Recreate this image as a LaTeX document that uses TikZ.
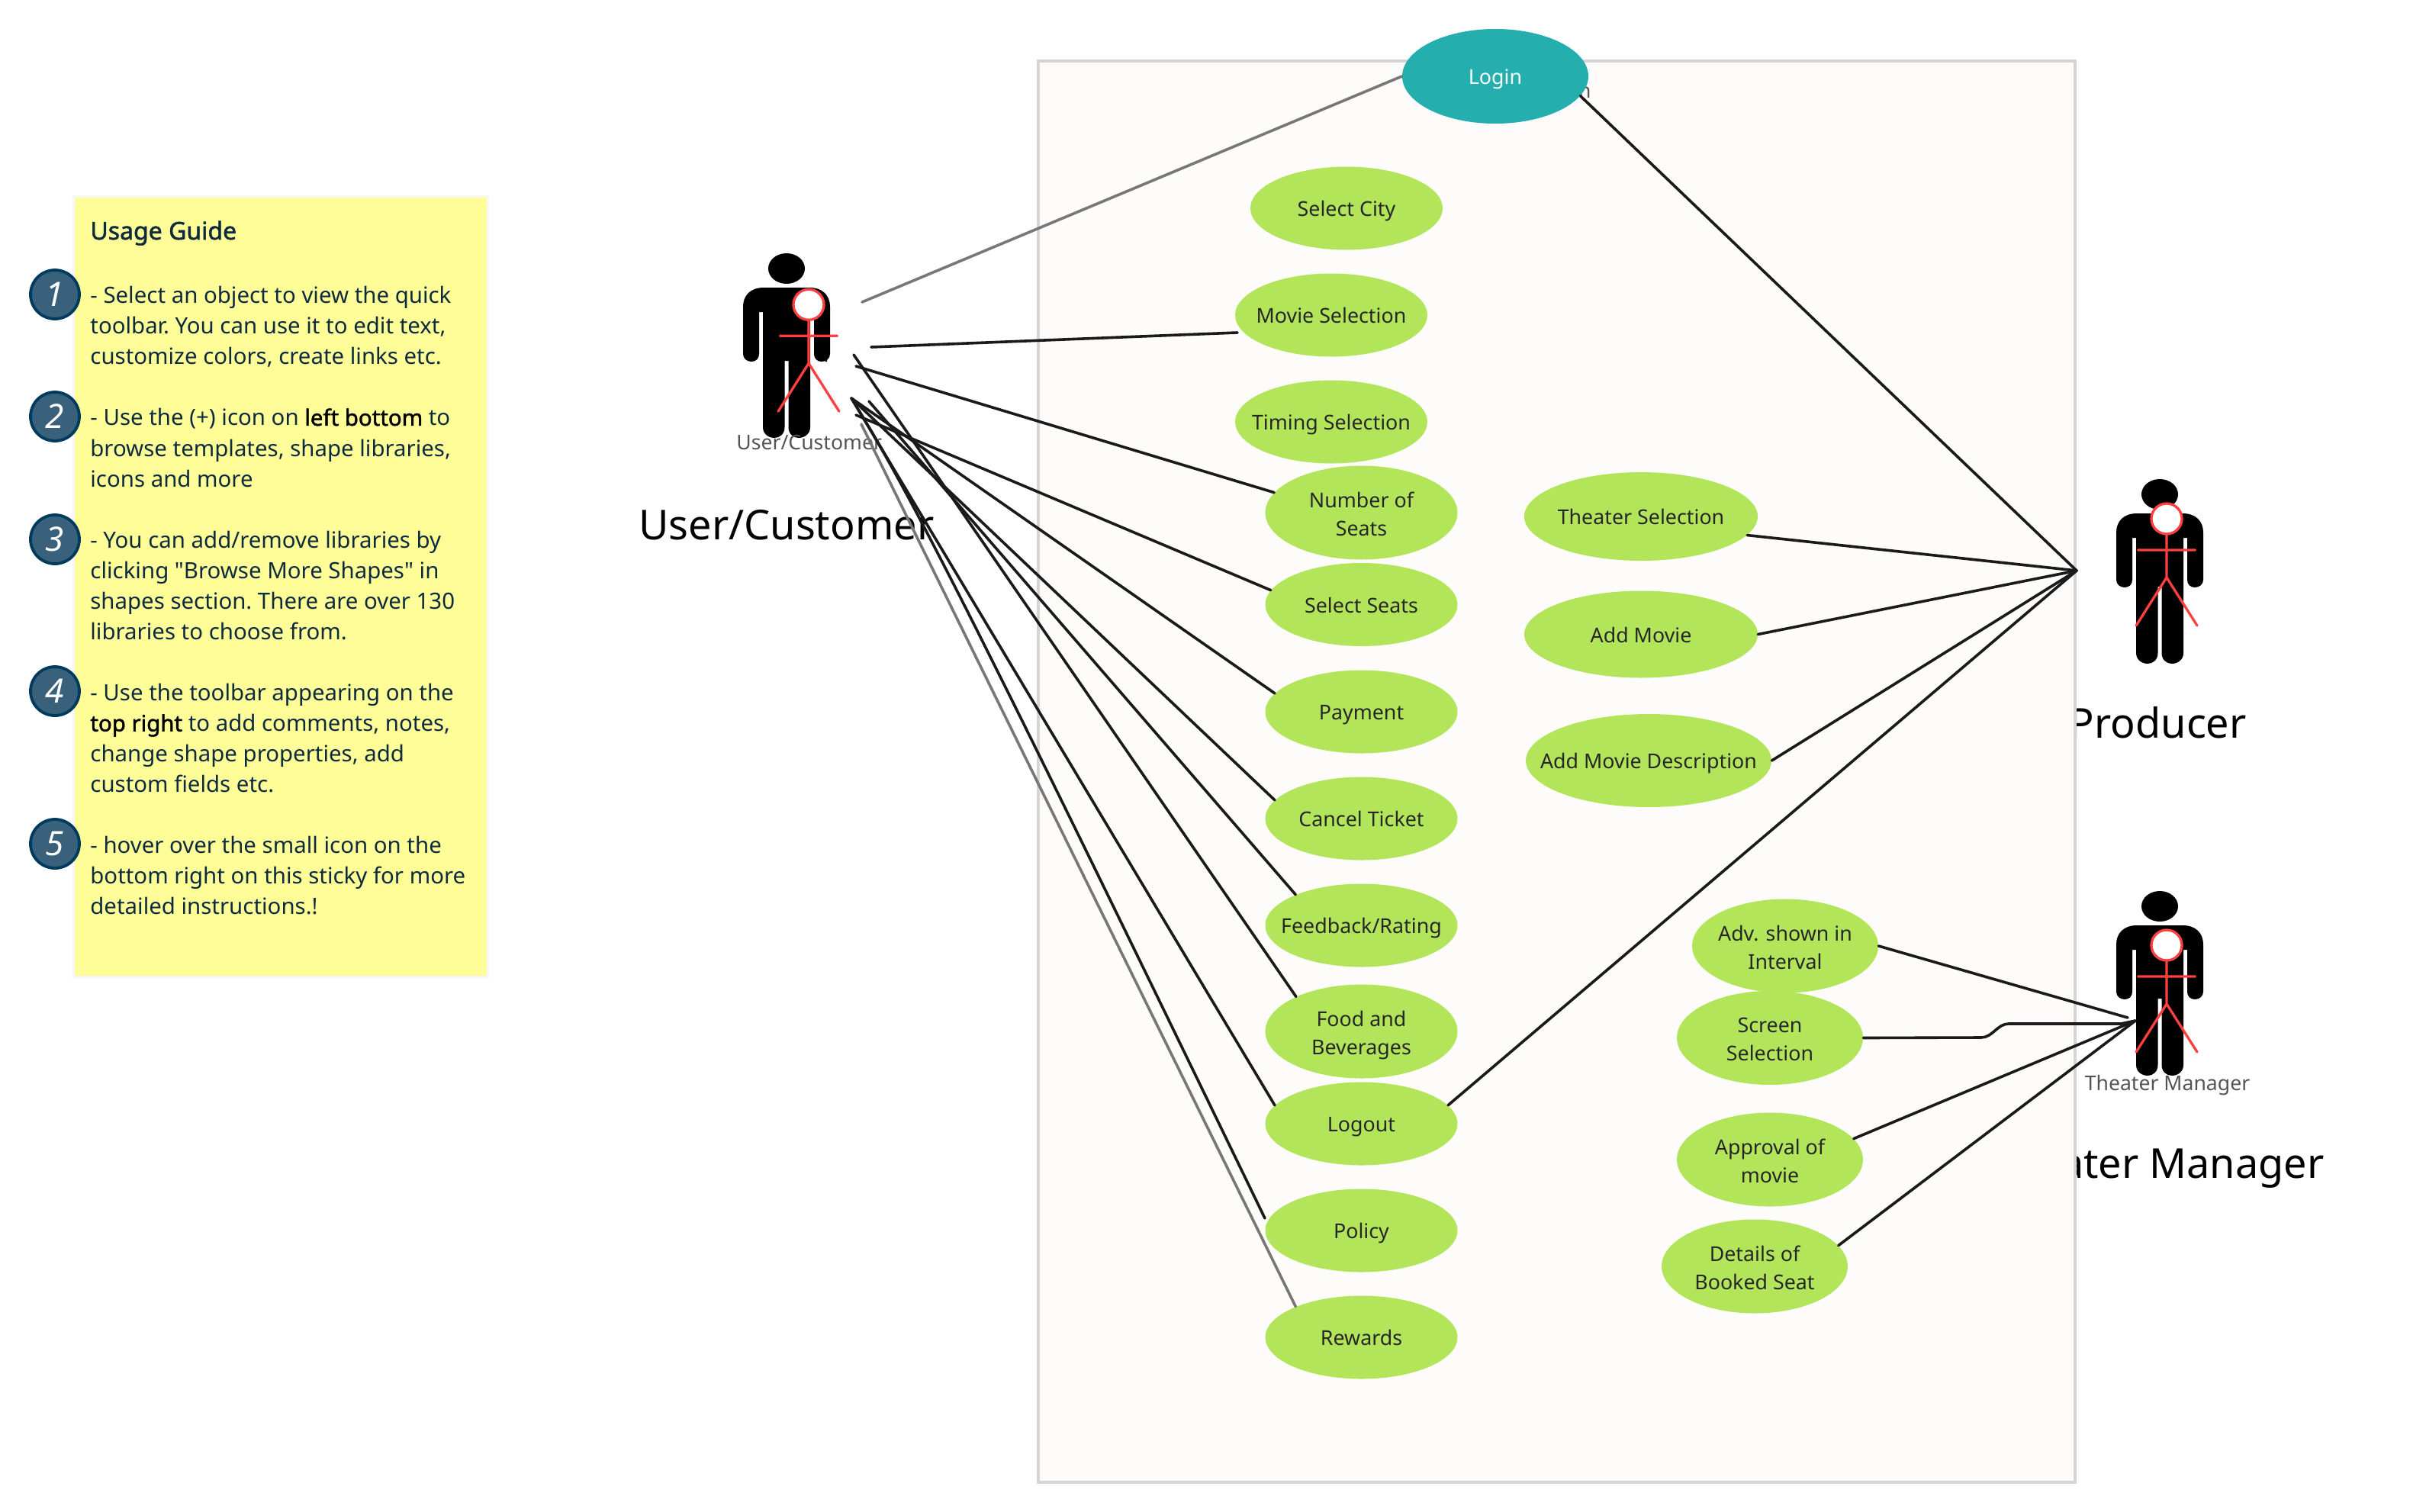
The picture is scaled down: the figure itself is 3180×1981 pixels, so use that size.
\documentclass[tikz,border=0pt]{standalone}
\usepackage{fontspec}
\setmainfont{Noto Sans}[AutoFakeBold=1.6]
\newfontfamily\quotefont{Noto Sans}
\usetikzlibrary{shapes.geometric}
\definecolor{frameline}{HTML}{D5D5D5}
\definecolor{framefill}{HTML}{FDFCFB}
\definecolor{usecase}{HTML}{B3E55B}
\definecolor{logincol}{HTML}{24AFAE}
\definecolor{notefill}{HTML}{FFFD98}
\definecolor{notetext}{HTML}{0E2B3D}
\definecolor{badgefill}{HTML}{3A617B}
\definecolor{badgeline}{HTML}{003A5C}
\definecolor{stickred}{HTML}{FF4040}
\definecolor{linedark}{HTML}{1A1A1A}
\definecolor{linegray}{HTML}{777777}
\tikzset{
  case/.style={ellipse,fill=usecase,inner xsep=-25pt,inner ysep=-12pt,minimum width=126pt,minimum height=54.5pt,
    align=center,text=black!85,font=\fontsize{13.4}{18.4}\selectfont,
    execute at begin node={\rule{0pt}{14pt}},execute at end node={\rule[-3.4pt]{0pt}{3.4pt}}},
  casetall/.style={case,minimum height=61.5pt,inner ysep=-20pt,execute at begin node={\rule{0pt}{33.5pt}}},
  wire/.style={draw=linedark,line width=1.8pt,line cap=round,line join=round},
  graywire/.style={draw=linegray,line width=1.8pt,line cap=round},
  badge/.style={circle,fill=badgefill,draw=badgeline,line width=1.9pt,minimum size=32pt,inner sep=0pt,
    text=white,font=\fontsize{22}{24}\selectfont\itshape},
  tinylabel/.style={text=black!67,font=\fontsize{13.3}{16}\selectfont,inner sep=0pt},
  biglabel/.style={text=black,font=\fontsize{27}{30}\selectfont,inner sep=0pt},
  pics/actorsil/.style={code={
    \fill[black] (0,0) ellipse [x radius=24,y radius=20];
    \fill[black] (-30,25) -- (30,25) .. controls (47,25) and (57,35) .. (57,50) -- (57,112)
      .. controls (57,118) and (52,122) .. (46,122) .. controls (40,122) and (36,118) .. (36,112)
      -- (36,57) -- (31,57) -- (31,208) .. controls (31,218) and (22,222) .. (16,222)
      .. controls (9,222) and (2.5,217) .. (2.5,208) -- (2.5,121) -- (-2.5,121) -- (-2.5,208)
      .. controls (-2.5,217) and (-9,222) .. (-16,222) .. controls (-22,222) and (-31,218) .. (-31,208)
      -- (-31,57) -- (-36,57) -- (-36,112) .. controls (-36,118) and (-40,122) .. (-46,122)
      .. controls (-52,122) and (-57,118) .. (-57,112) -- (-57,50) .. controls (-57,35) and (-47,25) .. (-30,25) -- cycle;
  }},
  pics/stickman/.style={code={
    \draw[stickred,line width=1.65pt,line cap=round,line join=round,fill=white] (0,0) circle [radius=20];
    \draw[stickred,line width=1.65pt,line cap=round,line join=round]
      (0,20) -- (0,77) (-37.5,41) -- (37.5,41) (-40,140) -- (0,77) -- (40,140);
  }}
}
\begin{document}
\begin{tikzpicture}[x=0.5pt,y=-0.5pt]
\useasboundingbox (0,0) rectangle (3180,1981);
\fill[white] (0,0) rectangle (3180,1981);

% big labels that the frame partly covers
\node[biglabel,anchor=base west] (bigUser) at (837,707) {User/Customer};
\node[biglabel,anchor=base east] (bigProd) at (2945,967) {Producer};
\node[biglabel,anchor=base east] (bigMgr) at (3047,1544) {Theater Manager};

% frame
\draw[frameline,fill=framefill,line width=2pt] (1361,80) rectangle (2720,1943);
\node[tinylabel,anchor=base east] (hiddenN) at (2086,128) {n};

% sticky note
\fill[black!3] (95,256) rectangle (641,1282);
\fill[notefill] (98,259) rectangle (638,1279);
\node[anchor=base west,inner sep=0pt,text=notetext,font=\fontsize{16}{20}\selectfont\bfseries] (noteTitle) at (118,314) {Usage Guide};
\node[anchor=north west,inner sep=0pt,align=left,text=notetext,font=\fontsize{14.7}{20.03}\selectfont\frenchspacing] (noteBody) at (118,375) {%
- Select an object to view the quick\\
toolbar. You can use it to edit text,\\
customize colors, create links etc.\\[20.03pt]
- Use the (+) icon on {\bfseries\color{black}left bottom} to\\
browse templates, shape libraries,\\
icons and more\\[20.03pt]
- You can add/remove libraries by\\
clicking {\quotefont\char"22}Browse More Shapes{\quotefont\char"22} in\\
shapes section. There are over 130\\
libraries to choose from.\\[20.03pt]
- Use the toolbar appearing on the\\
{\bfseries\color{black}top right} to add comments, notes,\\
change shape properties, add\\
custom fields etc.\\[20.03pt]
- hover over the small icon on the\\
bottom right on this sticky for more\\
detailed instructions.!};
\node[badge] (b1) at (72,386) {1};
\node[badge] (b2) at (72,546) {2};
\node[badge] (b3) at (72,707) {3};
\node[badge] (b4) at (72,906) {4};
\node[badge] (b5) at (72,1106) {5};

% actors
\pic at (1031,352) {actorsil};
\pic at (1060,399.3) {stickman};
\fill[linedark] (1083,473) circle [radius=1.6];
\node[tinylabel,anchor=base west] (smUser) at (965,589) {User/Customer};
\pic at (2831,648) {actorsil};
\pic at (2840,680) {stickman};
\pic at (2831,1188) {actorsil};
\pic at (2840,1239) {stickman};
\node[tinylabel,anchor=base] (smMgr) at (2841,1429) {Theater Manager};

% use cases
\node[case,fill=logincol,text=white,minimum width=122pt,minimum height=62pt] (login) at (1960,100) {Login};
\node[case] (city) at (1765,273) {Select City};
\node[case] (movie) at (1745,413) {Movie Selection};
\node[case] (timing) at (1745,553) {Timing Selection};
\node[casetall] (num) at (1784.5,672) {Number of\\Seats};
\node[case] (seats) at (1784.5,792.5) {Select Seats};
\node[case] (pay) at (1784.5,933) {Payment};
\node[case] (cancel) at (1784.5,1073) {Cancel Ticket};
\node[case] (feed) at (1784.5,1213) {Feedback/Rating};
\node[casetall] (food) at (1784.5,1352) {Food and\\Beverages};
\node[case] (logout) at (1784.5,1473) {Logout};
\node[case] (policy) at (1784.5,1613) {Policy};
\node[case] (rewards) at (1784.5,1753) {Rewards};
\node[case,minimum width=153pt,minimum height=58pt] (tsel) at (2151,677) {Theater Selection};
\node[case,minimum width=153pt,minimum height=57pt] (addm) at (2151,831.5) {Add Movie};
\node[case,minimum width=161pt,minimum height=61pt] (addd) at (2161,997) {Add Movie Description};
\node[casetall,minimum width=122pt] (adv) at (2340,1240) {Adv. shown in\\Interval};
\node[casetall,minimum width=122pt] (screen) at (2320,1360.5) {Screen\\Selection};
\node[casetall,minimum width=122pt] (appr) at (2320,1520) {Approval of\\movie};
\node[casetall,minimum width=122pt] (det) at (2300,1660) {Details of\\Booked Seat};

% free ends of the connectors
\coordinate (uLogin) at (1130,396);
\coordinate (uMovie) at (1142,455);
\coordinate (uFood) at (1119,465);
\coordinate (uNum) at (1122,480);
\coordinate (uFan) at (1116,522);
\coordinate (uFeed) at (1139,526);
\coordinate (uSeats) at (1122,544);
\coordinate (uRew) at (1129,556);
\coordinate (endPolicy) at (1658,1597);
\coordinate (endMovie) at (1622,436);
\coordinate (prod) at (2722,748);
\coordinate (mgrA) at (2789,1334);
\coordinate (mgrB) at (2799,1338);

% connectors
\draw[graywire] (uLogin) -- (login.180);
\draw[wire] (uMovie) -- (endMovie);
\draw[wire] (uNum) -- (num.167);
\draw[wire] (uSeats) -- (seats.171);
\draw[wire] (uFan) -- (pay.168);
\draw[wire] (uFan) -- (cancel.168);
\draw[wire] (uFeed) -- (feed.155);
\draw[wire] (uFood) -- (food.152);
\draw[wire] (uFan) -- (logout.168);
\draw[wire] (uFan) .. controls (1190,642) and (1260,775) .. (endPolicy);
\draw[graywire] (uRew) -- (rewards.155);
\draw[wire] (login.-13) -- (prod);
\draw[wire] (tsel.-10) -- (prod);
\draw[wire] (addm.0) -- (prod);
\draw[wire] (addd.0) -- (prod);
\draw[wire] (logout.12) -- (prod);
\draw[wire] (adv.0) -- (mgrA);
\draw[wire] (screen.0) -- (2597,1360) .. controls (2612,1360) and (2618,1342) .. (2633,1342) -- (2780,1342) -- (mgrB);
\draw[wire] (appr.14) -- (mgrB);
\draw[wire] (det.14) -- (mgrB);
\end{tikzpicture}
\end{document}
